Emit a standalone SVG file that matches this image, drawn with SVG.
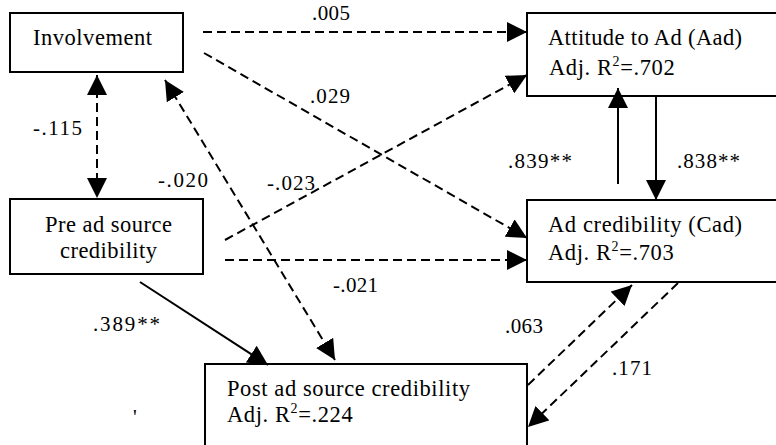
<svg xmlns="http://www.w3.org/2000/svg" width="776" height="445" viewBox="0 0 776 445">
<style>
.box{fill:#fff;stroke:#000;stroke-width:2}
.t{font-family:"Liberation Serif","Times New Roman",serif;font-size:22.5px;fill:#000}
.r{letter-spacing:0.6px}
.lab{font-family:"Liberation Serif","Times New Roman",serif;font-size:21px;fill:#000}
.solid{stroke:#000;stroke-width:2;fill:none}
.dash{stroke:#000;stroke-width:2;fill:none;stroke-dasharray:9 5}
</style>
<defs>
<marker id="ah" viewBox="0 0 20 20" refX="20" refY="10" markerWidth="20" markerHeight="20" markerUnits="userSpaceOnUse" orient="auto-start-reverse">
<path d="M0,0 L20,10 L0,20 z" fill="#000"/>
</marker>
</defs>
<rect width="776" height="445" fill="#fff"/>

<g id="involvement">
<rect class="box" x="10" y="13" width="173" height="59"/>
<text class="t" x="33" y="45" textLength="119" lengthAdjust="spacing">Involvement</text>
</g>
<g id="pre-ad">
<rect class="box" x="10" y="199" width="193" height="75"/>
<text class="t" x="45" y="232" textLength="127" lengthAdjust="spacing">Pre ad source</text>
<text class="t" x="60" y="258" textLength="97" lengthAdjust="spacing">credibility</text>
</g>
<g id="post-ad">
<rect class="box" x="205" y="364" width="322" height="95"/>
<text class="t" x="227" y="396" textLength="243" lengthAdjust="spacing">Post ad source credibility</text>
<text class="t r" x="227" y="422">Adj. R<tspan font-size="14" dy="-9">2</tspan><tspan dy="9">=.224</tspan></text>
</g>
<g id="aad">
<rect class="box" x="527" y="13" width="262" height="83"/>
<text class="t" x="548" y="45" textLength="194" lengthAdjust="spacing">Attitude to Ad (Aad)</text>
<text class="t r" x="549" y="75">Adj. R<tspan font-size="14" dy="-9">2</tspan><tspan dy="9">=.702</tspan></text>
</g>
<g id="cad">
<rect class="box" x="527" y="200" width="262" height="82"/>
<text class="t" x="548" y="232" textLength="194" lengthAdjust="spacing">Ad credibility (Cad)</text>
<text class="t r" x="548" y="260">Adj. R<tspan font-size="14" dy="-9">2</tspan><tspan dy="9">=.703</tspan></text>
</g>

<g id="connectors">
<line class="dash" x1="203" y1="32" x2="527" y2="32" marker-end="url(#ah)"/>
<line class="dash" x1="204" y1="53" x2="527" y2="238" marker-end="url(#ah)"/>
<line class="dash" x1="225" y1="240" x2="527" y2="75" marker-end="url(#ah)"/>
<line class="dash" x1="225" y1="260" x2="527" y2="260" marker-end="url(#ah)"/>
<line class="dash" x1="97" y1="75" x2="97" y2="198" marker-start="url(#ah)" marker-end="url(#ah)"/>
<line class="dash" x1="165" y1="80" x2="335" y2="360" marker-start="url(#ah)" marker-end="url(#ah)"/>
<line class="solid" x1="140" y1="282" x2="268" y2="365" marker-end="url(#ah)"/>
<line class="solid" x1="618" y1="184" x2="618" y2="88" marker-end="url(#ah)"/>
<line class="solid" x1="656" y1="96" x2="656" y2="200" marker-end="url(#ah)"/>
<line class="dash" x1="528" y1="385" x2="632" y2="285" marker-end="url(#ah)"/>
<line class="dash" x1="678" y1="283" x2="528" y2="427" marker-end="url(#ah)"/>
</g>

<g id="labels">
<text class="lab" x="312" y="20" textLength="38" lengthAdjust="spacing">.005</text>
<text class="lab" x="310" y="103" textLength="40" lengthAdjust="spacing">.029</text>
<text class="lab" x="33" y="135" textLength="49" lengthAdjust="spacing">-.115</text>
<text class="lab" x="158" y="187" textLength="50" lengthAdjust="spacing">-.020</text>
<text class="lab" x="267" y="190" textLength="48" lengthAdjust="spacing">-.023</text>
<text class="lab" x="333" y="292" textLength="45" lengthAdjust="spacing">-.021</text>
<text class="lab" x="93" y="331" textLength="67" lengthAdjust="spacing">.389**</text>
<text class="lab" x="508" y="168" textLength="64" lengthAdjust="spacing">.839**</text>
<text class="lab" x="677" y="168" textLength="63" lengthAdjust="spacing">.838**</text>
<text class="lab" x="505" y="333" textLength="38" lengthAdjust="spacing">.063</text>
<text class="lab" x="612" y="375" textLength="40" lengthAdjust="spacing">.171</text>
<text class="lab" x="133" y="424" font-size="20">'</text>
</g>
</svg>
